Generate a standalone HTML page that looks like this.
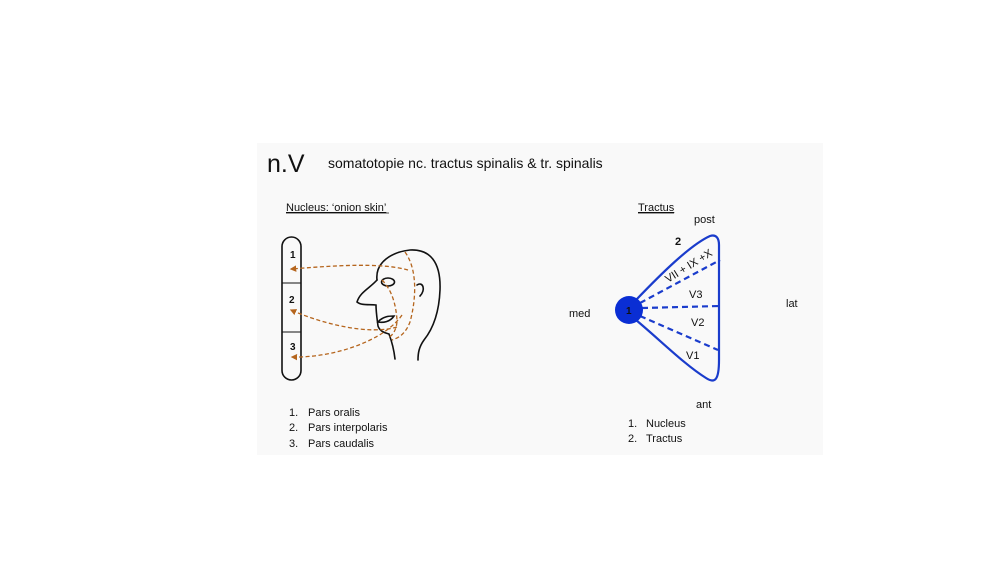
<!DOCTYPE html>
<html><head><meta charset="utf-8"><style>
html,body{margin:0;padding:0;background:#fff;}
svg{display:block;}
text{font-family:"Liberation Sans",sans-serif;fill:#111;}
</style></head><body>
<svg width="1000" height="563" viewBox="0 0 1000 563" xmlns="http://www.w3.org/2000/svg">
<defs>
<marker id="ab" markerWidth="6" markerHeight="6" refX="4" refY="3" orient="auto"><path d="M5,3 L0,0.5 L0,5.5 Z" fill="#b5651d"/></marker>
</defs>
<rect x="257" y="143" width="566" height="312" fill="#f9f9f9"/>
<text x="267" y="172" font-size="25" fill="#222">n.V</text>
<text x="328" y="168" font-size="14">somatotopie nc. tractus spinalis &amp; tr. spinalis</text>
<text x="286" y="211" font-size="11" text-decoration="underline">Nucleus: ‘onion skin’</text>
<line x1="286" y1="213" x2="389" y2="213" stroke="#111" stroke-width="0.7"/>
<!-- column -->
<rect x="282" y="237" width="19" height="143" rx="9.5" fill="none" stroke="#111" stroke-width="1.6"/>
<line x1="282" y1="283" x2="301" y2="283" stroke="#111" stroke-width="1"/>
<line x1="282" y1="332" x2="301" y2="332" stroke="#111" stroke-width="1"/>
<text x="290" y="258" font-size="10" font-weight="bold">1</text>
<text x="289" y="303" font-size="10" font-weight="bold">2</text>
<text x="290" y="350" font-size="10" font-weight="bold">3</text>
<!-- head -->
<g fill="none" stroke="#111" stroke-width="1.6" stroke-linecap="round">
<path d="M377,280 C375,262 392,252 410,250 C430,249 441,262 440,290 C439,315 432,330 424,340 C419,347 418,353 418,360"/>
<path d="M377,280 C370,288 360,292 357,302 C362,306 370,304 376,305 C376,312 377,318 378,326 C380,332 386,333 389,334 C392,342 394,350 395,359"/>
<ellipse cx="388" cy="282" rx="6.5" ry="4"/>
<path d="M417,285 C423,281 426,290 420,296"/>
<path d="M378,322 C383,316 390,316 394,316 C390,322 383,323 378,322 Z"/>
</g>
<!-- dashed -->
<g fill="none" stroke="#b5651d" stroke-width="1.3" stroke-dasharray="4,2.5">
<path d="M405,252 C418,270 416,300 410,322 C405,335 398,338 392,340"/>
<path d="M382,280 C392,290 396,305 397,320 C397,330 392,336 388,338"/>
<path d="M408,270 C380,262 330,266 291,269" marker-end="url(#ab)"/>
<path d="M397,327 C370,335 325,325 291,310" marker-end="url(#ab)"/>
<path d="M402,315 C385,340 335,358 292,357" marker-end="url(#ab)"/>
</g>
<text x="289" y="416" font-size="11">1.</text><text x="308" y="416" font-size="11">Pars oralis</text>
<text x="289" y="431" font-size="11">2.</text><text x="308" y="431" font-size="11">Pars interpolaris</text>
<text x="289" y="447" font-size="11">3.</text><text x="308" y="447" font-size="11">Pars caudalis</text>
<!-- tractus -->
<text x="638" y="211" font-size="11" text-decoration="underline">Tractus</text>
<line x1="638" y1="213" x2="674" y2="213" stroke="#111" stroke-width="0.7"/>
<text x="694" y="223" font-size="11">post</text>
<text x="675" y="245" font-size="11" font-weight="bold">2</text>
<text x="569" y="317" font-size="11">med</text>
<text x="786" y="307" font-size="11">lat</text>
<text x="696" y="408" font-size="11">ant</text>
<g fill="none" stroke="#1a3ccc" stroke-width="2.2">
<path d="M636,300 C660,275 690,245 710,236 C716,234 719,238 719,245 L719,360 C719,380 715,384 706,378 C685,365 660,340 636,320"/>
</g>
<g stroke="#1a3ccc" stroke-width="2.2" stroke-dasharray="6,4">
<line x1="640" y1="303" x2="720" y2="260"/>
<line x1="642" y1="308" x2="720" y2="306"/>
<line x1="640" y1="316" x2="718" y2="350"/>
</g>
<circle cx="629" cy="310" r="14" fill="#0a2ed4"/>
<text x="626" y="314" font-size="10" font-weight="bold" fill="#0a1a70">1</text>
<text x="668" y="283" font-size="11" transform="rotate(-32 668 283)">VII + IX +X</text>
<text x="689" y="298" font-size="11">V3</text>
<text x="691" y="326" font-size="11">V2</text>
<text x="686" y="359" font-size="11">V1</text>
<text x="628" y="427" font-size="11">1.</text><text x="646" y="427" font-size="11">Nucleus</text>
<text x="628" y="442" font-size="11">2.</text><text x="646" y="442" font-size="11">Tractus</text>
</svg>
</body></html>
